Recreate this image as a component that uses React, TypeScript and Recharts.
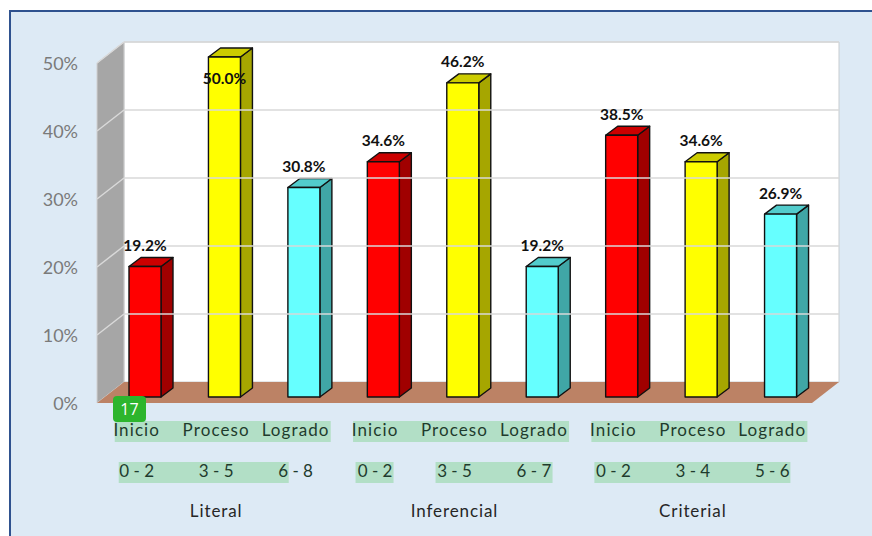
import React from "react";
import { BarChart, Bar, XAxis, YAxis, ReferenceArea, ReferenceLine, LabelList } from "recharts";

const levels = ["Inicio", "Proceso", "Logrado", "Inicio", "Proceso", "Logrado", "Inicio", "Proceso", "Logrado"];
const ranges = ["0 - 2", "3 - 5", "6 - 8", "0 - 2", "3 - 5", "6 - 7", "0 - 2", "3 - 4", "5 - 6"];
const groups = ["", "Literal", "", "", "Inferencial", "", "", "Criterial", ""];
const values = [19.2, 50.0, 30.8, 34.6, 46.2, 19.2, 38.5, 34.6, 26.9];
const yTicks = [0, 10, 20, 30, 40, 50];
const palette: Record<string, [string, string, string]> = {
  Inicio: ["#FF0000", "#CC0000", "#A00000"],
  Proceso: ["#FFFF00", "#CCCC00", "#A6A600"],
  Logrado: ["#66FFFF", "#52CCCC", "#40A6A6"],
};
const data = values.map((value, i) => ({ key: String(i), level: levels[i], value }));

const DX = 27, DY = 21;
const BAR_DX = 8, BAR_DY = 6, BAR_DEPTH_X = 12, BAR_DEPTH_Y = 9;
const FONT = "Lato, 'Open Sans', sans-serif";
const rangeHighlights: Record<number, number[][]> = {
  0: [[-18, 152]],
  3: [[-19.5, 18.5], [60.5, 177.5]],
  6: [[-19, 177]],
};

const pts = (p: number[][]) => p.map((q) => q.join(",")).join(" ");

function Walls(props: any) {
  const { x, y, width, height } = props;
  const b = y + height;
  return (
    <g>
      <polygon points={pts([[x + DX, y - DY], [x + width + DX, y - DY], [x + width + DX, b - DY], [x + DX, b - DY]])} fill="#FFFFFF" stroke="#C8CCD0" strokeWidth={1} />
      <polygon points={pts([[x, b], [x + DX, b - DY], [x + DX, y - DY], [x, y]])} fill="#A6A6A6" stroke="#D0D0D0" strokeWidth={1} />
      <polygon points={pts([[x, b], [x + width, b], [x + width + DX, b - DY], [x + DX, b - DY]])} fill="#BC8265" />
    </g>
  );
}

function GridTick(props: any) {
  const { x1, x2, y1 } = props;
  const xa = Math.min(x1, x2), xb = Math.max(x1, x2);
  return (
    <g stroke="#D9D9D9" strokeWidth={1.5} fill="none">
      <line x1={xa} y1={y1} x2={xa + DX} y2={y1 - DY} />
      <line x1={xa + DX} y1={y1 - DY} x2={xb + DX} y2={y1 - DY} />
    </g>
  );
}

function Bar3D(props: any) {
  const { x, y, width, height, payload } = props;
  const [front, top, side] = palette[payload.level];
  const l = x + BAR_DX, t = y - BAR_DY, r = l + width, b = t + height;
  const ink = "#111111";
  return (
    <g stroke={ink} strokeWidth={1.4} strokeLinejoin="round">
      <polygon points={pts([[r, t], [r + BAR_DEPTH_X, t - BAR_DEPTH_Y], [r + BAR_DEPTH_X, b - BAR_DEPTH_Y], [r, b]])} fill={side} />
      <polygon points={pts([[l, t], [l + BAR_DEPTH_X, t - BAR_DEPTH_Y], [r + BAR_DEPTH_X, t - BAR_DEPTH_Y], [r, t]])} fill={top} />
      <rect x={l} y={t} width={width} height={height} fill={front} />
    </g>
  );
}

function ValueLabel(props: any) {
  const { x, y, width, value } = props;
  const cx = x + BAR_DX + width / 2;
  const cy = (value >= 50 ? y + 21 : y - 21.5) - BAR_DY;
  return (
    <text x={cx} y={cy} textAnchor="middle" dominantBaseline="central" fontFamily={FONT} fontWeight={700} fontSize={15.5} fill="#111111">
      {value.toFixed(1) + "%"}
    </text>
  );
}

function CategoryTick(props: any) {
  const { x, payload } = props;
  const i = payload.index;
  const top = 403;
  return (
    <g fontFamily={FONT} fontSize={17}>
      {rangeHighlights[i] ? (
        <g fill="#B2DFC6">
          <rect x={x - 22} y={top + 18} width={216} height={21} />
          {rangeHighlights[i].map(([a, b]) => (
            <rect key={a} x={x + a} y={top + 59} width={b - a} height={21} />
          ))}
        </g>
      ) : null}
      <text x={x} y={top + 26.5} textAnchor="middle" dominantBaseline="central" letterSpacing={1.1} fill="#1F3B2D">{levels[i]}</text>
      <text x={x} y={top + 67.5} textAnchor="middle" dominantBaseline="central" fill="#1F3B2D">{ranges[i]}</text>
      {groups[i] ? <text x={x} y={top + 107} textAnchor="middle" dominantBaseline="central" letterSpacing={0.9} fill="#262626">{groups[i]}</text> : null}
    </g>
  );
}

function ValueTick(props: any) {
  const { y, payload } = props;
  return (
    <text x={78} y={y} textAnchor="end" dominantBaseline="central" fontFamily={FONT} fontSize={18} fill="#7A7A7A">
      {payload.value + "%"}
    </text>
  );
}

export default function App() {
  return (
    <div style={{ position: "absolute", left: 0, top: 0, width: 872, height: 536, overflow: "hidden", background: "#FFFFFF" }}>
      <div style={{ position: "absolute", left: 9, top: 10, width: 863, height: 526, background: "#DDEAF5", borderLeft: "2px solid #2F528F", borderTop: "2px solid #2F528F", boxSizing: "border-box" }} />
      <div style={{ position: "absolute", left: 0, top: 0 }}>
        <BarChart width={872} height={536} data={data} margin={{ top: 63, right: 60, bottom: 0, left: 0 }} barSize={32}>
          <XAxis dataKey="key" interval={0} axisLine={false} tickLine={false} tick={<CategoryTick />} height={133} />
          <YAxis domain={[0, 50]} ticks={yTicks} width={97} axisLine={false} tickLine={false} tick={<ValueTick />} />
          <ReferenceArea y1={0} y2={50} shape={<Walls />} ifOverflow="visible" />
          {yTicks.slice(1).map((t) => (
            <ReferenceLine key={t} y={t} shape={<GridTick />} ifOverflow="visible" />
          ))}
          <Bar dataKey="value" isAnimationActive={false} shape={<Bar3D />}>
            <LabelList dataKey="value" content={<ValueLabel />} />
          </Bar>
        </BarChart>
      </div>
      <div style={{ position: "absolute", left: 113, top: 396, width: 33, height: 26, background: "#2DB52D", borderRadius: 4, color: "#FFFFFF", fontFamily: "'Open Sans', sans-serif", fontSize: 16, lineHeight: "26px", textAlign: "center" }}>17</div>
    </div>
  );
}
